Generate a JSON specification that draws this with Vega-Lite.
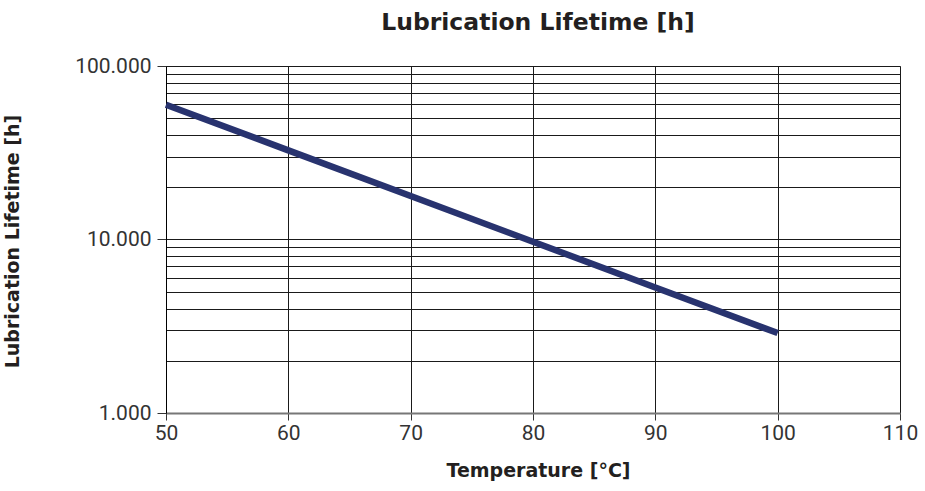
{
  "$schema": "https://vega.github.io/schema/vega-lite/v6.json",
  "width": 734,
  "height": 347,
  "autosize": "none",
  "padding": {"left": 166, "top": 66, "right": 25, "bottom": 78},
  "background": "white",
  "title": {
    "text": "Lubrication Lifetime [h]",
    "font": "DejaVu Sans",
    "fontSize": 23.5,
    "fontWeight": "bold",
    "color": "#231f20",
    "anchor": "middle",
    "dx": 5,
    "offset": 21
  },
  "config": {
    "view": {"stroke": "#999999", "strokeWidth": 1},
    "axis": {
      "labelFont": "Roboto",
      "labelFontSize": 21,
      "labelColor": "#333333",
      "titleFont": "DejaVu Sans",
      "titleFontWeight": "bold",
      "titleFontSize": 19,
      "titleColor": "#231f20",
      "gridColor": "#1a1a1a",
      "gridOpacity": 1,
      "gridWidth": 1,
      "tickColor": "#333333",
      "domainColor": "#333333"
    }
  },
  "data": {
    "values": [
      {"temp": 50, "life": 59800},
      {"temp": 60, "life": 32650},
      {"temp": 70, "life": 17800},
      {"temp": 80, "life": 9710},
      {"temp": 90, "life": 5290},
      {"temp": 100, "life": 2890}
    ]
  },
  "mark": {"type": "line", "color": "#28336f", "strokeWidth": 6.5, "strokeCap": "butt"},
  "encoding": {
    "x": {
      "field": "temp",
      "type": "quantitative",
      "scale": {"domain": [50, 110], "nice": false},
      "axis": {
        "title": "Temperature [°C]",
        "values": [50, 60, 70, 80, 90, 100, 110],
        "grid": true,
        "tickSize": 7,
        "labelPadding": 2,
        "labelFlush": false,
        "titleX": 372,
        "titleY": 63,
        "titleBaseline": "alphabetic",
        "titleAlign": "center",
        "domainColor": "#777777",
        "domainWidth": 2
      }
    },
    "y": {
      "field": "life",
      "type": "quantitative",
      "scale": {"type": "log", "domain": [1000, 100000], "nice": false},
      "axis": {
        "title": "Lubrication Lifetime [h]",
        "values": [1000, 2000, 3000, 4000, 5000, 6000, 7000, 8000, 9000, 10000, 20000, 30000, 40000, 50000, 60000, 70000, 80000, 90000, 100000],
        "grid": true,
        "tickSize": 9,
        "labelPadding": 6,
        "labelFlush": false,
        "tickOpacity": {"condition": {"test": "datum.value == 1000 || datum.value == 10000 || datum.value == 100000", "value": 1}, "value": 0},
        "labelExpr": "datum.value == 100000 ? '100.000' : datum.value == 10000 ? '10.000' : datum.value == 1000 ? '1.000' : ''",
        "titleX": -154,
        "titleY": 175,
        "titleAngle": -90,
        "titleAlign": "center",
        "titleBaseline": "middle",
        "domainColor": "#000000"
      }
    }
  }
}
